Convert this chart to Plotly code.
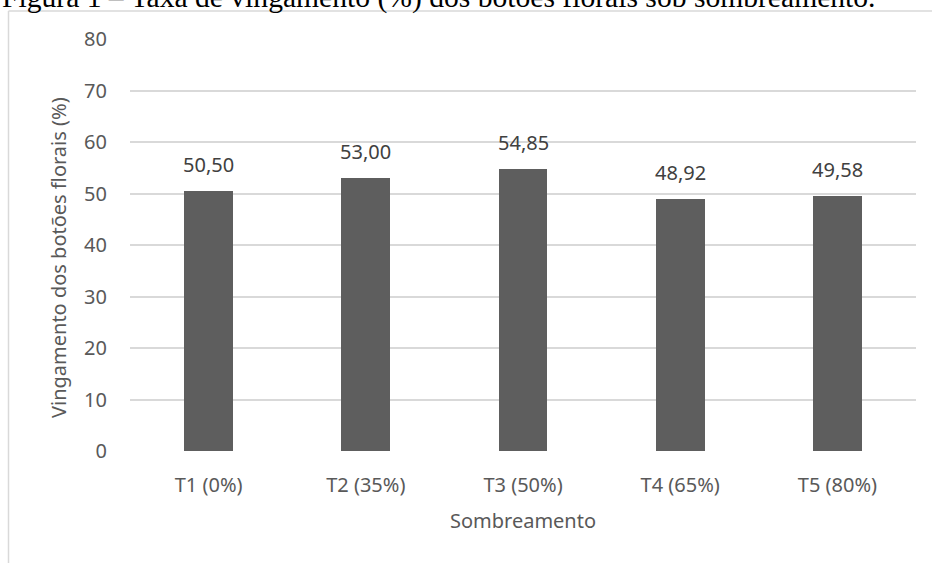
import plotly.graph_objects as go

# Fruit set rate (%) of flower buds under each shading treatment
categories = ["T1 (0%)", "T2 (35%)", "T3 (50%)", "T4 (65%)", "T5 (80%)"]
vingamento = [50.50, 53.00, 54.85, 48.92, 49.58]
y_ticks = [0, 10, 20, 30, 40, 50, 60, 70, 80]

W, H = 932, 563
L, R, T, B = 130, 16, 39, 112
pw, ph = W - L - R, H - T - B

def px_x(px):
    return (px - L) / pw

def px_y(py):
    return (H - B - py) / ph

labels = [f"{v:.2f}".replace(".", ",") for v in vingamento]
font = "Noto Sans"
grey = "#595959"
fs = 20

fig = go.Figure()
fig.add_trace(go.Bar(
    x=categories, y=vingamento, width=0.31,
    marker=dict(color="#5e5e5e", line=dict(width=0)),
    hoverinfo="x+y",
))

# value labels above each bar
value_notes = [
    dict(x=c, y=v, text=t, xref="x", yref="y", showarrow=False,
         yanchor="bottom", yshift=11,
         font=dict(family=font, size=fs, color="#404040"))
    for c, v, t in zip(categories, vingamento, labels)
]

fig.update_layout(
    width=W, height=H,
    margin=dict(l=L, r=R, t=T, b=B),
    paper_bgcolor="white", plot_bgcolor="white",
    showlegend=False, bargap=0,
    xaxis=dict(
        showgrid=False, showline=False, ticks="",
        tickfont=dict(family=font, size=fs, color=grey), ticklabelstandoff=20,
        title=dict(text="Sombreamento", font=dict(family=font, size=fs, color=grey), standoff=16),
    ),
    yaxis=dict(
        range=[0, 80], tickvals=y_ticks, showline=False, zeroline=False,
        gridcolor="#d9d9d9", gridwidth=1.5, ticks="",
        tickfont=dict(family=font, size=fs, color=grey), ticklabelstandoff=22,
    ),
    shapes=[
        dict(type="line", xref="paper", yref="paper", x0=px_x(8.5), x1=px_x(W + 5),
             y0=px_y(11), y1=px_y(11), line=dict(color="#d9d9d9", width=1.5)),
        dict(type="line", xref="paper", yref="paper", x0=px_x(8.5), x1=px_x(8.5),
             y0=px_y(11), y1=px_y(H + 5), line=dict(color="#d9d9d9", width=1.5)),
    ],
    annotations=value_notes + [
        # y-axis title, placed slightly below the plot's vertical centre
        dict(text="Vingamento dos botões florais (%)", textangle=-90,
             xref="paper", yref="paper", x=px_x(58), y=px_y(258),
             xanchor="center", yanchor="middle", showarrow=False,
             font=dict(family=font, size=fs, color=grey)),
        dict(text="Figura 1 – Taxa de vingamento (%) dos botões florais sob sombreamento.",
             xref="paper", yref="paper", x=px_x(0), y=px_y(16), xanchor="left", yanchor="bottom",
             showarrow=False, font=dict(family="Liberation Serif", size=29.6, color="black")),
    ],
)

fig.write_html("out.html")
